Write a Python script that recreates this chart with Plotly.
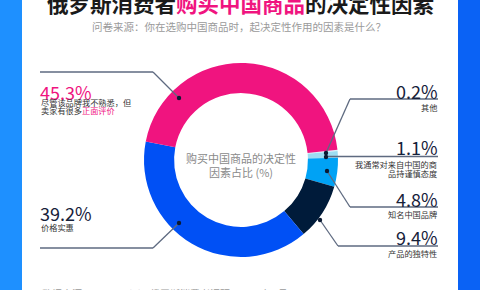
import plotly.graph_objects as go

W, H = 480, 290

# listed clockwise from the pink/other boundary
labels = ["其他", "我通常对来自中国的商品持谨慎态度", "知名中国品牌", "产品的独特性",
          "价格实惠", "尽管该品牌我不熟悉，但卖家有很多正面评价"]
values = [0.2, 1.1, 4.8, 9.4, 39.2, 45.3]
value_text = ["0.2%", "1.1%", "4.8%", "9.4%", "39.2%", "45.3%"]
colors = ["#D8F3FA", "#9EDDF2", "#00A2F5", "#001B3A", "#0050F5", "#F0147F"]

PINK = "#F0147F"
NAVY = "#16213A"
LINE = "#5E6A80"
FONT = "Noto Sans CJK SC"


def px(x):
    return x / W


def py(y):
    return 1 - y / H


cx, cy, R = 241, 160, 97

fig = go.Figure()
fig.add_trace(go.Pie(
    labels=labels, values=values, sort=False, direction="clockwise",
    rotation=84, hole=0.69, marker=dict(colors=colors, line=dict(width=0)),
    textinfo="none", hoverinfo="label+percent", showlegend=False,
    domain=dict(x=[px(cx - R), px(cx + R)], y=[py(cy + R), py(cy - R)]),
))

shapes = []
shapes.append(dict(type="rect", xref="paper", yref="paper", x0=0, x1=px(22), y0=0, y1=1,
                   fillcolor="#1E90FF", line=dict(width=0), layer="below"))
shapes.append(dict(type="rect", xref="paper", yref="paper", x0=px(458), x1=1, y0=0, y1=1,
                   fillcolor="#0A62F5", line=dict(width=0), layer="below"))
shapes.append(dict(type="rect", xref="paper", yref="paper", x0=px(22), x1=px(458), y0=0, y1=1,
                   fillcolor="#FFFFFF", line=dict(width=0), layer="below"))


def seg(points):
    for (x0, y0), (x1, y1) in zip(points[:-1], points[1:]):
        shapes.append(dict(type="line", xref="paper", yref="paper",
                           x0=px(x0), y0=py(y0), x1=px(x1), y1=py(y1),
                           line=dict(color=LINE, width=1.3)))


def dot(x, y, r=2.2):
    shapes.append(dict(type="circle", xref="paper", yref="paper",
                       x0=px(x - r), x1=px(x + r), y0=py(y + r), y1=py(y - r),
                       fillcolor="#0B1A33", line=dict(width=0)))


seg([(40, 72), (153, 72), (179, 98)]); dot(179, 98)
seg([(40, 248), (153, 248), (179, 223)]); dot(179, 223)
seg([(438, 99), (350, 99), (326, 153)]); dot(326, 153)
seg([(326, 156.5), (438, 156.5)]); dot(326, 157)
seg([(438, 207), (350, 207), (327, 171)]); dot(327, 171)
seg([(438, 246), (338, 246), (320, 220)]); dot(320, 220)

ann = []


def text(x, y, t, size, color, xanchor="center"):
    ann.append(dict(x=px(x), y=py(y), xref="paper", yref="paper", text=t, showarrow=False,
                    xanchor=xanchor, yanchor="middle", align=xanchor if xanchor != "center" else "center",
                    font=dict(size=size, color=color, family=FONT)))


text(240, 2, "<b>俄罗斯消费者<span style='color:%s'>购买中国商品</span>的决定性因素</b>" % PINK, 21.5, "#1A1A1A")
text(239, 27, "问卷来源：你在选购中国商品时，起决定性作用的因素是什么？", 10.5, "#9A9A9A")
text(40, 293, "数据来源：Data Insight 俄罗斯消费者调研，2024年1月", 10, "#9A9A9A", xanchor="left")

text(241, 165, "购买中国商品的决定性<br>因素占比 (%)", 11, "#8A8A8A")

LBL = "#333333"
text(38, 91.5, value_text[5], 18, PINK, xanchor="left")
text(39, 101.5, "尽管该品牌我不熟悉，但", 8.2, LBL, xanchor="left")
text(39, 110, "卖家有很多<span style='color:%s'>正面评价</span>" % PINK, 8.2, LBL, xanchor="left")
text(38, 212.5, value_text[4], 18, NAVY, xanchor="left")
text(39, 227, labels[4], 8.2, LBL, xanchor="left")

text(440, 90.5, value_text[0], 18, NAVY, xanchor="right")
text(439, 107, labels[0], 8.2, LBL, xanchor="right")
text(440, 147, value_text[1], 18, NAVY, xanchor="right")
text(439, 164, "我通常对来自中国的商", 8.2, LBL, xanchor="right")
text(439, 173, "品持谨慎态度", 8.2, LBL, xanchor="right")
text(440, 198.5, value_text[2], 18, NAVY, xanchor="right")
text(439, 214, labels[2], 8.2, LBL, xanchor="right")
text(440, 237, value_text[3], 18, NAVY, xanchor="right")
text(439, 253, labels[3], 8.2, LBL, xanchor="right")

fig.update_layout(
    width=W, height=H, margin=dict(l=0, r=0, t=0, b=0),
    paper_bgcolor="#FFFFFF", plot_bgcolor="#FFFFFF",
    shapes=shapes, annotations=ann, font=dict(family=FONT),
)

fig.write_html("out.html", config={"displayModeBar": False})
